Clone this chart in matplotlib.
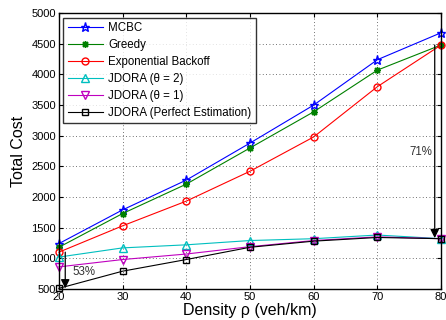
import matplotlib
matplotlib.use("Agg")
import matplotlib.pyplot as plt

plt.rcParams['font.family'] = ['Liberation Sans', 'DejaVu Sans']

density = [20, 30, 40, 50, 60, 70, 80]
mcbc = [1240, 1790, 2276, 2880, 3500, 4240, 4680]
greedy = [1180, 1730, 2210, 2800, 3390, 4070, 4480]
exp_backoff = [1100, 1530, 1933, 2420, 2980, 3800, 4480]
jdora_t2 = [1020, 1170, 1220, 1290, 1320, 1380, 1320]
jdora_t1 = [860, 980, 1070, 1190, 1290, 1350, 1320]
jdora_perfect = [510, 790, 980, 1180, 1280, 1340, 1320]

labels = ["MCBC", "Greedy", "Exponential Backoff", "JDORA (θ = 2)",
          "JDORA (θ = 1)", "JDORA (Perfect Estimation)"]

fig = plt.figure(figsize=(4.46, 3.2), dpi=100)
ax = fig.add_axes([0.132, 0.097, 0.857, 0.862])

styles = [
    (mcbc, "blue", "*", dict(markersize=6.5, markerfacecolor="none", markeredgewidth=1.0)),
    (greedy, "green", (8, 2, 0), dict(markersize=5)),
    (exp_backoff, "red", "o", dict(markersize=5, markerfacecolor="none")),
    (jdora_t2, "c", "^", dict(markersize=5.5, markerfacecolor="none")),
    (jdora_t1, "m", "v", dict(markersize=5.5, markerfacecolor="none")),
    (jdora_perfect, "black", "s", dict(markersize=4, markerfacecolor="none")),
]
for (vals, c, m, kw), lab in zip(styles, labels):
    ax.plot(density, vals, color=c, marker=m, linewidth=0.8, label=lab,
            clip_on=False, **kw)

ax.set_xlim(20, 80)
ax.set_ylim(500, 5000)
ax.set_xticks(density)
ax.set_yticks(range(500, 5001, 500))
ax.tick_params(labelsize=8, direction="in", length=3, top=True, right=True, pad=2)
ax.grid(True, linestyle=(0, (1, 3)), color="#444444", linewidth=0.6)
ax.set_xlabel("Density ρ (veh/km)", fontsize=11.5, labelpad=1)
ax.set_ylabel("Total Cost", fontsize=11.5, labelpad=4)

ax.annotate("", xy=(21, 510), xytext=(21, 1100),
            arrowprops=dict(arrowstyle="-|>", color="black", lw=0.9,
                            mutation_scale=13, shrinkA=0, shrinkB=0))
ax.text(22.2, 780, "53%", fontsize=8.3, color="#333333", va="center")
ax.annotate("", xy=(79, 1330), xytext=(79, 4480),
            arrowprops=dict(arrowstyle="-|>", color="black", lw=0.9,
                            mutation_scale=13, shrinkA=0, shrinkB=0))
ax.text(78.7, 2740, "71%", fontsize=8.3, color="#333333", va="center", ha="right")

leg = ax.legend(loc="upper left", fontsize=8.3, frameon=True, fancybox=False,
                edgecolor="black", handlelength=3.0, borderpad=0.4,
                labelspacing=0.42, handletextpad=0.5, borderaxespad=0.4)
leg.get_frame().set_linewidth(1.0)

for s in ax.spines.values():
    s.set_linewidth(1.0)

fig.savefig("out.png", dpi=100)
